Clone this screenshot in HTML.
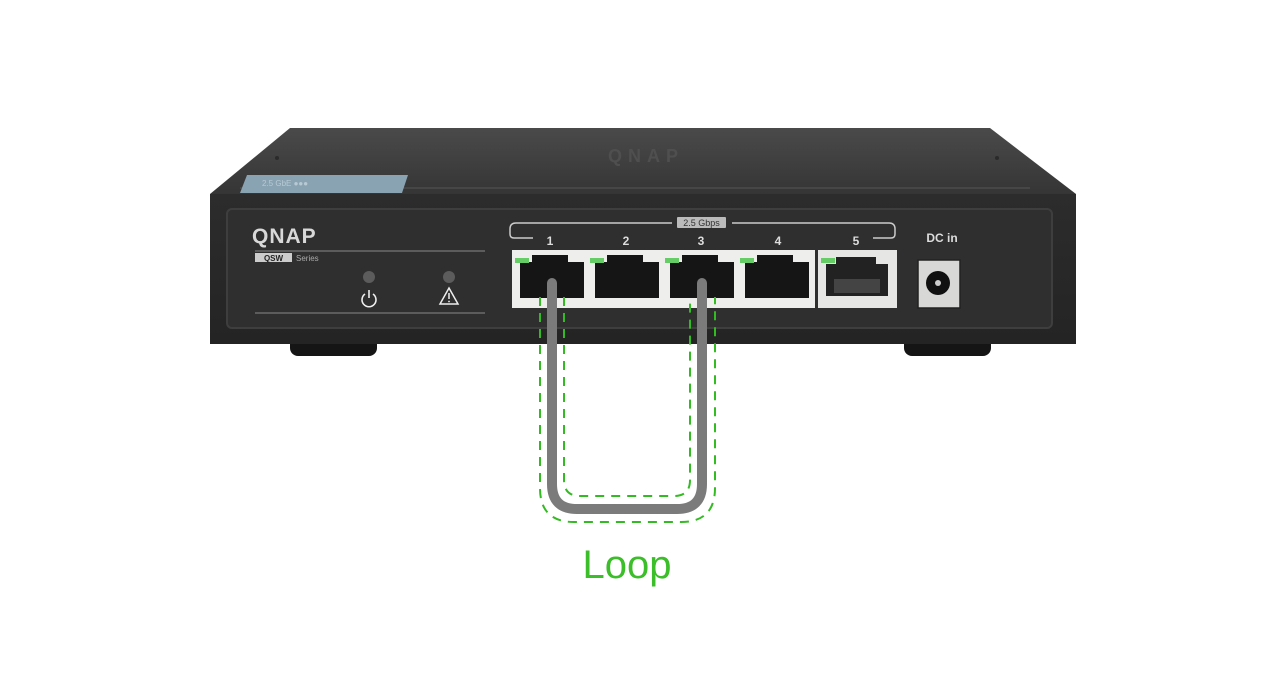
<!DOCTYPE html>
<html><head><meta charset="utf-8"><style>
html,body{margin:0;padding:0;background:#fff;}
svg{display:block;}
text{font-family:"Liberation Sans",sans-serif;}
</style></head><body>
<svg width="1280" height="700" viewBox="0 0 1280 700" xmlns="http://www.w3.org/2000/svg">
<defs>
<linearGradient id="top" x1="0" y1="0" x2="0" y2="1">
<stop offset="0" stop-color="#4a4a4a"/><stop offset="1" stop-color="#353535"/>
</linearGradient>
<linearGradient id="front" x1="0" y1="0" x2="0" y2="1">
<stop offset="0" stop-color="#2c2c2c"/><stop offset="1" stop-color="#242424"/>
</linearGradient>
</defs>
<rect width="1280" height="700" fill="#fff"/>
<!-- feet -->
<rect x="290" y="336" width="87" height="20" rx="8" fill="#151515"/>
<rect x="904" y="336" width="87" height="20" rx="8" fill="#151515"/>
<!-- top surface -->
<path d="M290 128 L990 128 L1076 194 L210 194 Z" fill="url(#top)"/>
<line x1="240" y1="188" x2="1030" y2="188" stroke="#555" stroke-width="1"/>
<text x="646" y="162" text-anchor="middle" font-size="18" font-weight="bold" fill="#4f4f4f" letter-spacing="6">QNAP</text>
<polygon points="247,175 408,175 402,193 240,193" fill="#8aa3b2"/>
<text x="262" y="186" font-size="8" fill="#b7cad4">2.5 GbE  ●●●</text>
<circle cx="277" cy="158" r="2" fill="#2a2a2a"/>
<circle cx="997" cy="158" r="2" fill="#2a2a2a"/>
<!-- front -->
<rect x="210" y="194" width="866" height="150" fill="url(#front)"/>
<rect x="227" y="209" width="825" height="119" rx="5" fill="#2f2f2f" stroke="#3e3e3e" stroke-width="2"/>
<!-- logo -->
<text x="252" y="243" font-size="21" font-weight="bold" fill="#d8d8d8" letter-spacing="1">QNAP</text>
<line x1="255" y1="251" x2="485" y2="251" stroke="#888" stroke-width="1"/>
<rect x="255" y="253" width="37" height="9" fill="#ccc"/>
<text x="273.5" y="261" text-anchor="middle" font-size="8" font-weight="bold" fill="#222">QSW</text>
<text x="296" y="261" font-size="8" fill="#aaa">Series</text>
<circle cx="369" cy="277" r="6" fill="#5c5c5c"/>
<circle cx="449" cy="277" r="6" fill="#5c5c5c"/>
<path d="M365 294 A7 7 0 1 0 373 294" fill="none" stroke="#eee" stroke-width="1.6"/>
<line x1="369" y1="290" x2="369" y2="298" stroke="#eee" stroke-width="1.6"/>
<path d="M449 288 L458 304 L440 304 Z" fill="none" stroke="#eee" stroke-width="1.5"/>
<line x1="449" y1="293" x2="449" y2="299" stroke="#eee" stroke-width="1.5"/>
<circle cx="449" cy="301.5" r="0.9" fill="#eee"/>
<line x1="255" y1="313" x2="485" y2="313" stroke="#888" stroke-width="1"/>
<!-- bracket -->
<path d="M672 223 L516 223 Q510 223 510 229 L510 234 Q510 238 514 238 L533 238" fill="none" stroke="#ccc" stroke-width="1.5"/>
<path d="M732 223 L889 223 Q895 223 895 229 L895 234 Q895 238 891 238 L873 238" fill="none" stroke="#ccc" stroke-width="1.5"/>
<rect x="677" y="217" width="49" height="11" rx="1" fill="#bbb"/>
<text x="701.5" y="226" text-anchor="middle" font-size="9" fill="#333">2.5 Gbps</text>
<g font-size="12" font-weight="bold" fill="#ddd" text-anchor="middle">
<text x="550" y="245">1</text><text x="626" y="245">2</text><text x="701" y="245">3</text><text x="778" y="245">4</text><text x="856" y="245">5</text>
</g>
<!-- ports frame -->
<rect x="512" y="250" width="303" height="58" fill="#eeeeec"/>
<rect x="818" y="250" width="79" height="58" fill="#e6e6e4"/>
<g id="ports">
<g transform="translate(520,0)">
<path d="M0 262 L12 262 L12 255 L48 255 L48 262 L64 262 L64 298 L0 298 Z" fill="#151515"/>
<rect x="-5" y="258" width="14" height="5" fill="#6c6"/>
</g>
<g transform="translate(595,0)">
<path d="M0 262 L12 262 L12 255 L48 255 L48 262 L64 262 L64 298 L0 298 Z" fill="#151515"/>
<rect x="-5" y="258" width="14" height="5" fill="#6c6"/>
</g>
<g transform="translate(670,0)">
<path d="M0 262 L12 262 L12 255 L48 255 L48 262 L64 262 L64 298 L0 298 Z" fill="#151515"/>
<rect x="-5" y="258" width="14" height="5" fill="#6c6"/>
</g>
<g transform="translate(745,0)">
<path d="M0 262 L12 262 L12 255 L48 255 L48 262 L64 262 L64 298 L0 298 Z" fill="#151515"/>
<rect x="-5" y="258" width="14" height="5" fill="#6c6"/>
</g>
<g transform="translate(826,0)">
<path d="M0 264 L10 264 L10 257 L50 257 L50 264 L62 264 L62 296 L0 296 Z" fill="#222"/>
<rect x="-5" y="258" width="14" height="5" fill="#6c6"/>
<rect x="8" y="279" width="46" height="14" fill="#444"/>
</g>
</g>
<!-- DC in -->
<text x="942" y="242" text-anchor="middle" font-size="12" font-weight="bold" fill="#ddd">DC in</text>
<rect x="918" y="260" width="42" height="48" fill="#d8d8d6" stroke="#222" stroke-width="1.5"/>
<circle cx="938" cy="283" r="12" fill="#111"/>
<circle cx="938" cy="283" r="3" fill="#ccc"/>
<!-- dashed loop -->
<g fill="none" stroke="#33bb22" stroke-width="2" stroke-dasharray="9,7">
<path d="M540 297 L540 488 Q540 522 574 522 L681 522 Q715 522 715 488 L715 297"/>
<path d="M564 297 L564 480 Q564 496 580 496 L674 496 Q690 496 690 480 L690 297"/>
</g>
<!-- cable -->
<path d="M552 283 L552 484 Q552 509 577 509 L677 509 Q702 509 702 484 L702 283" fill="none" stroke="#7b7b7b" stroke-width="10" stroke-linecap="round"/>
<text x="627" y="578" text-anchor="middle" font-size="40" fill="#3cbd2a">Loop</text>
</svg>
</body></html>
